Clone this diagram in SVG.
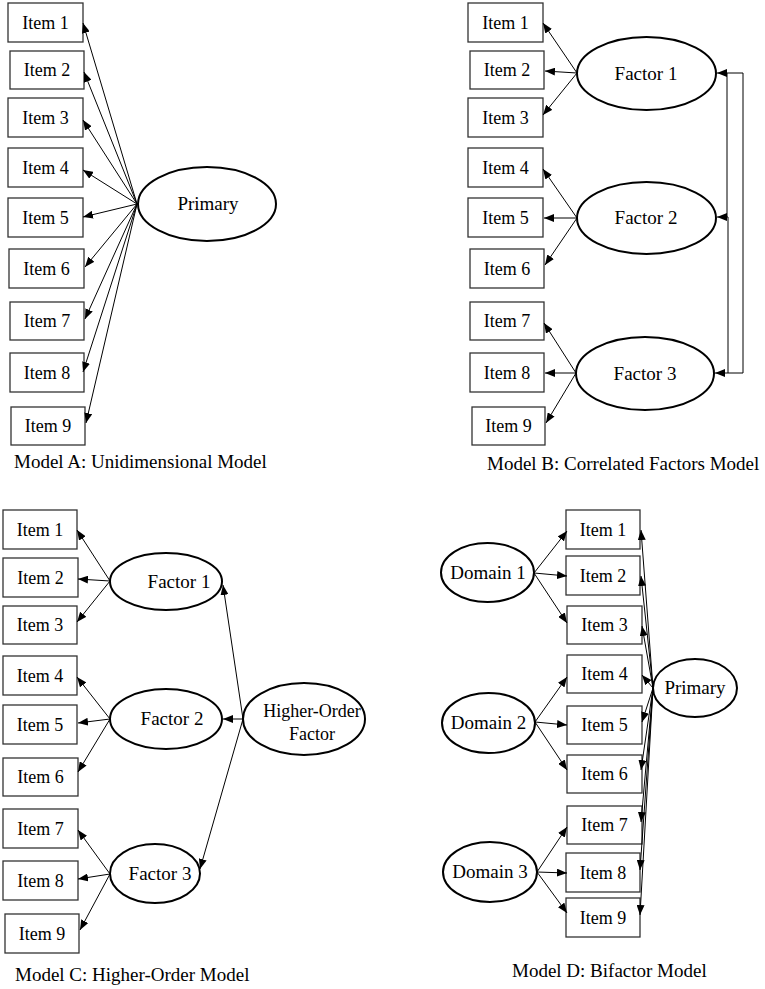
<svg xmlns="http://www.w3.org/2000/svg" width="765" height="989" viewBox="0 0 765 989">
<style>
  .box{fill:#fff;stroke:#333;stroke-width:1.3}
  .lat{fill:#fff;stroke:#000;stroke-width:2}
  .t{font-family:"Liberation Serif","Times New Roman",serif;font-size:18px;fill:#000;text-anchor:middle}
  .tl{font-family:"Liberation Serif","Times New Roman",serif;font-size:19px;fill:#000;text-anchor:middle}
  .cap{font-family:"Liberation Serif","Times New Roman",serif;font-size:19px;fill:#000}
  .c{fill:none;stroke:#000;stroke-width:1;marker-end:url(#ah)}
  .cn{fill:none;stroke:#000;stroke-width:1}
</style>
<defs>
  <marker id="ah" viewBox="0 0 10 8" refX="10" refY="4" markerWidth="10" markerHeight="8" markerUnits="userSpaceOnUse" orient="auto-start-reverse">
    <path d="M0,0 L10,4 L0,8 z" fill="#000"/>
  </marker>
</defs>
<rect width="765" height="989" fill="#fff"/>

<!-- Model A -->
<g id="A_item1"><rect class="box" x="8" y="3" width="75" height="39"/><text class="t" x="45.5" y="28.5">Item 1</text></g>
<g id="A_item2"><rect class="box" x="10" y="51" width="74" height="38"/><text class="t" x="47" y="76">Item 2</text></g>
<g id="A_item3"><rect class="box" x="8" y="98" width="75" height="39"/><text class="t" x="45.5" y="123.5">Item 3</text></g>
<g id="A_item4"><rect class="box" x="8" y="148" width="75" height="39"/><text class="t" x="45.5" y="173.5">Item 4</text></g>
<g id="A_item5"><rect class="box" x="8" y="198" width="75" height="39"/><text class="t" x="45.5" y="223.5">Item 5</text></g>
<g id="A_item6"><rect class="box" x="9" y="249" width="75" height="39"/><text class="t" x="46.5" y="274.5">Item 6</text></g>
<g id="A_item7"><rect class="box" x="10" y="302" width="74" height="38"/><text class="t" x="47" y="327">Item 7</text></g>
<g id="A_item8"><rect class="box" x="10" y="353" width="74" height="39"/><text class="t" x="47" y="378.5">Item 8</text></g>
<g id="A_item9"><rect class="box" x="11" y="407" width="74" height="38"/><text class="t" x="48" y="432">Item 9</text></g>
<g id="A_primary"><ellipse class="lat" cx="207" cy="204" rx="69" ry="37"/><text class="tl" x="208" y="210">Primary</text></g>
<text class="cap" x="14" y="468">Model A: Unidimensional Model</text>

<!-- Model B -->
<g id="B_item1"><rect class="box" x="468" y="3" width="75" height="39"/><text class="t" x="505.5" y="28.5">Item 1</text></g>
<g id="B_item2"><rect class="box" x="470" y="51" width="74" height="38"/><text class="t" x="507" y="76">Item 2</text></g>
<g id="B_item3"><rect class="box" x="468" y="98" width="75" height="39"/><text class="t" x="505.5" y="123.5">Item 3</text></g>
<g id="B_item4"><rect class="box" x="468" y="148" width="75" height="39"/><text class="t" x="505.5" y="173.5">Item 4</text></g>
<g id="B_item5"><rect class="box" x="468" y="198" width="75" height="39"/><text class="t" x="505.5" y="223.5">Item 5</text></g>
<g id="B_item6"><rect class="box" x="470" y="249" width="74" height="39"/><text class="t" x="507" y="274.5">Item 6</text></g>
<g id="B_item7"><rect class="box" x="470" y="302" width="74" height="38"/><text class="t" x="507" y="327">Item 7</text></g>
<g id="B_item8"><rect class="box" x="470" y="353" width="74" height="39"/><text class="t" x="507" y="378.5">Item 8</text></g>
<g id="B_item9"><rect class="box" x="472" y="407" width="73" height="38"/><text class="t" x="508.5" y="432">Item 9</text></g>
<g id="B_factor1"><ellipse class="lat" cx="646.5" cy="73.5" rx="69.5" ry="36.5"/><text class="tl" x="646" y="79.5">Factor 1</text></g>
<g id="B_factor2"><ellipse class="lat" cx="646.5" cy="218" rx="69.5" ry="36"/><text class="tl" x="646" y="224">Factor 2</text></g>
<g id="B_factor3"><ellipse class="lat" cx="645" cy="373.5" rx="69" ry="36.5"/><text class="tl" x="645" y="379.5">Factor 3</text></g>
<text class="cap" x="487" y="470">Model B: Correlated Factors Model</text>

<!-- Model C -->
<g id="C_item1"><rect class="box" x="3" y="510" width="74" height="39"/><text class="t" x="40" y="535.5">Item 1</text></g>
<g id="C_item2"><rect class="box" x="3" y="558" width="75" height="39"/><text class="t" x="40.5" y="583.5">Item 2</text></g>
<g id="C_item3"><rect class="box" x="3" y="606" width="74" height="38"/><text class="t" x="40" y="631">Item 3</text></g>
<g id="C_item4"><rect class="box" x="3" y="656" width="74" height="39"/><text class="t" x="40" y="681.5">Item 4</text></g>
<g id="C_item5"><rect class="box" x="3" y="705" width="74" height="39"/><text class="t" x="40" y="730.5">Item 5</text></g>
<g id="C_item6"><rect class="box" x="3" y="758" width="75" height="38"/><text class="t" x="40.5" y="783">Item 6</text></g>
<g id="C_item7"><rect class="box" x="3" y="809" width="75" height="39"/><text class="t" x="40.5" y="834.5">Item 7</text></g>
<g id="C_item8"><rect class="box" x="3" y="861" width="75" height="39"/><text class="t" x="40.5" y="886.5">Item 8</text></g>
<g id="C_item9"><rect class="box" x="5" y="914" width="74" height="39"/><text class="t" x="42" y="939.5">Item 9</text></g>
<g id="C_factor1"><ellipse class="lat" cx="166" cy="581.5" rx="56" ry="28.5"/><text class="tl" x="179" y="587.5">Factor 1</text></g>
<g id="C_factor2"><ellipse class="lat" cx="166" cy="719" rx="56" ry="30"/><text class="tl" x="172" y="725">Factor 2</text></g>
<g id="C_factor3"><ellipse class="lat" cx="155" cy="873.5" rx="45" ry="29.5"/><text class="tl" x="160" y="879.5">Factor 3</text></g>
<g id="C_higher"><ellipse class="lat" cx="304" cy="719" rx="61" ry="36"/><text class="t" x="312" y="717">Higher-Order</text><text class="t" x="312" y="740">Factor</text></g>
<text class="cap" x="15" y="981">Model C: Higher-Order Model</text>

<!-- Model D -->
<g id="D_item1"><rect class="box" x="566" y="510" width="74" height="39"/><text class="t" x="603" y="535.5">Item 1</text></g>
<g id="D_item2"><rect class="box" x="566" y="556" width="74" height="39"/><text class="t" x="603" y="581.5">Item 2</text></g>
<g id="D_item3"><rect class="box" x="567" y="606" width="75" height="38"/><text class="t" x="604.5" y="631">Item 3</text></g>
<g id="D_item4"><rect class="box" x="567" y="655" width="75" height="38"/><text class="t" x="604.5" y="680">Item 4</text></g>
<g id="D_item5"><rect class="box" x="567" y="706" width="75" height="38"/><text class="t" x="604.5" y="731">Item 5</text></g>
<g id="D_item6"><rect class="box" x="567" y="755" width="75" height="38"/><text class="t" x="604.5" y="780">Item 6</text></g>
<g id="D_item7"><rect class="box" x="567" y="806" width="75" height="38"/><text class="t" x="604.5" y="831">Item 7</text></g>
<g id="D_item8"><rect class="box" x="566" y="853" width="74" height="39"/><text class="t" x="603" y="878.5">Item 8</text></g>
<g id="D_item9"><rect class="box" x="566" y="898" width="74" height="39"/><text class="t" x="603" y="923.5">Item 9</text></g>
<g id="D_domain1"><ellipse class="lat" cx="487.5" cy="572.5" rx="46.5" ry="29.5"/><text class="tl" x="488" y="578.5">Domain 1</text></g>
<g id="D_domain2"><ellipse class="lat" cx="488.5" cy="723" rx="46.5" ry="30"/><text class="tl" x="488.5" y="729">Domain 2</text></g>
<g id="D_domain3"><ellipse class="lat" cx="490" cy="872" rx="47" ry="30"/><text class="tl" x="490" y="878">Domain 3</text></g>
<g id="D_primary"><ellipse class="lat" cx="695" cy="688" rx="42" ry="29"/><text class="tl" x="695" y="694">Primary</text></g>
<text class="cap" x="512" y="977">Model D: Bifactor Model</text>

<g id="connectors">
  <!-- Model A -->
  <line class="c" x1="137" y1="204" x2="83" y2="23"/>
  <line class="c" x1="137" y1="204" x2="84" y2="72"/>
  <line class="c" x1="137" y1="204" x2="83" y2="120"/>
  <line class="c" x1="137" y1="204" x2="83" y2="170"/>
  <line class="c" x1="137" y1="204" x2="83" y2="217"/>
  <line class="c" x1="137" y1="204" x2="85" y2="267"/>
  <line class="c" x1="137" y1="204" x2="85" y2="319"/>
  <line class="c" x1="137" y1="204" x2="83" y2="372"/>
  <line class="c" x1="137" y1="204" x2="86" y2="423"/>
  <!-- Model B -->
  <line class="c" x1="577" y1="73" x2="543" y2="23"/>
  <line class="c" x1="577" y1="73" x2="545" y2="71"/>
  <line class="c" x1="577" y1="73" x2="543" y2="115"/>
  <line class="c" x1="577" y1="218" x2="543" y2="169"/>
  <line class="c" x1="577" y1="218" x2="544" y2="218"/>
  <line class="c" x1="577" y1="218" x2="545" y2="265"/>
  <line class="c" x1="576" y1="373" x2="544" y2="323"/>
  <line class="c" x1="576" y1="373" x2="545" y2="373"/>
  <line class="c" x1="576" y1="373" x2="546" y2="423"/>
  <polyline class="c" style="marker-start:url(#ah)" points="717,73 743,73 743,373 715,373"/>
  <polyline class="c" points="727,73 727,217 717,217"/>
  <polyline class="cn" points="727,217 728,217 728,373"/>
  <!-- Model C -->
  <line class="c" x1="110" y1="581" x2="77" y2="530"/>
  <line class="c" x1="110" y1="581" x2="78" y2="579"/>
  <line class="c" x1="110" y1="581" x2="77" y2="622"/>
  <line class="c" x1="110" y1="719" x2="77" y2="677"/>
  <line class="c" x1="110" y1="719" x2="78" y2="723"/>
  <line class="c" x1="110" y1="719" x2="78" y2="772"/>
  <line class="c" x1="110" y1="874" x2="78" y2="830"/>
  <line class="c" x1="110" y1="874" x2="78" y2="879"/>
  <line class="c" x1="110" y1="874" x2="80" y2="930"/>
  <line class="c" x1="243" y1="719" x2="223" y2="585"/>
  <line class="c" x1="243" y1="719" x2="223" y2="719"/>
  <line class="c" x1="243" y1="719" x2="200" y2="869"/>
  <!-- Model D -->
  <line class="c" x1="534" y1="573" x2="567" y2="531"/>
  <line class="c" x1="534" y1="573" x2="567" y2="576"/>
  <line class="c" x1="534" y1="573" x2="567" y2="623"/>
  <line class="c" x1="535" y1="722" x2="567" y2="677"/>
  <line class="c" x1="535" y1="722" x2="567" y2="725"/>
  <line class="c" x1="535" y1="722" x2="567" y2="770"/>
  <line class="c" x1="537" y1="872" x2="567" y2="827"/>
  <line class="c" x1="537" y1="872" x2="567" y2="873"/>
  <line class="c" x1="537" y1="872" x2="567" y2="913"/>
  <line class="c" x1="653" y1="688" x2="641" y2="530"/>
  <line class="c" x1="653" y1="688" x2="641" y2="576"/>
  <line class="c" x1="653" y1="688" x2="642" y2="626"/>
  <line class="c" x1="653" y1="688" x2="642" y2="675"/>
  <line class="c" x1="653" y1="688" x2="642" y2="722"/>
  <line class="c" x1="653" y1="688" x2="641" y2="770"/>
  <line class="c" x1="653" y1="688" x2="641" y2="822"/>
  <line class="c" x1="653" y1="688" x2="640" y2="870"/>
  <line class="c" x1="653" y1="688" x2="640" y2="915"/>
</g>
</svg>
